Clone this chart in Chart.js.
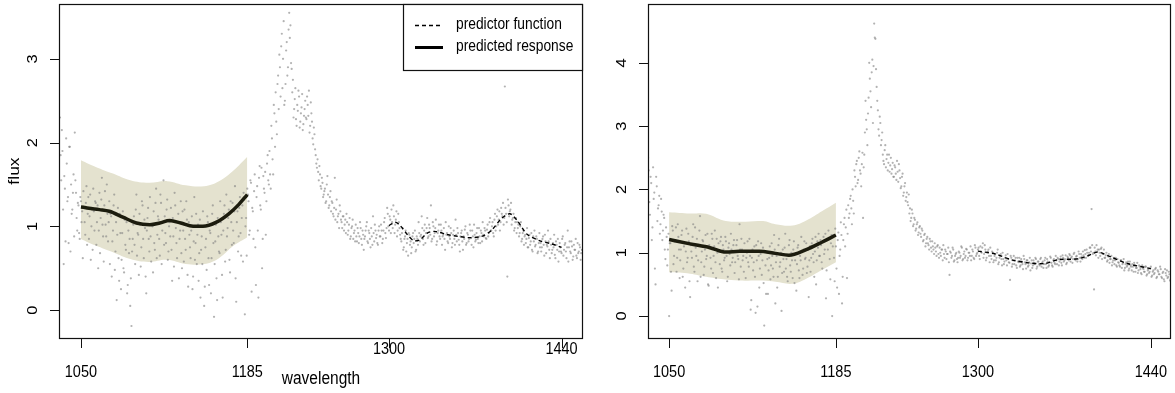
<!DOCTYPE html>
<html>
<head>
<meta charset="utf-8">
<script src="https://cdn.jsdelivr.net/npm/chart.js@4.4.1/dist/chart.umd.min.js"></script>
<style>
html, body { margin: 0; padding: 0; background: #fff; }
#wrap { position: relative; width: 1175px; height: 393px; }
canvas { position: absolute; top: 0; }
</style>
</head>
<body>
<div id="wrap">
  <canvas id="leftChart" width="587" height="393" style="left:0px"></canvas>
  <canvas id="rightChart" width="588" height="393" style="left:587px"></canvas>
</div>
<script>
// observed spectra: one value per nm from waveStart, plus a second set at the half-nm
const waveStart = 1033;

const fluxLeft = [
  2.30,1.55,1.90,0.55,1.45,2.05,1.30,0.80,1.95,1.50,
  1.20,1.62,2.12,1.40,0.95,1.25,0.85,1.30,1.18,1.42,
  1.05,1.28,0.78,1.35,1.12,0.60,1.20,1.45,0.95,1.28,
  1.05,0.50,1.40,1.10,1.58,0.88,1.25,1.02,1.50,0.82,
  1.30,1.15,0.40,0.95,1.38,0.70,0.12,1.22,0.35,0.92,
  0.60,1.18,0.45,0.78,1.05,0.30,0.68,0.05,-0.19,0.85,
  1.12,0.55,1.38,0.92,0.42,1.02,0.75,1.25,0.62,0.98,
  0.20,1.10,0.85,1.35,0.58,1.00,1.18,0.72,1.45,0.90,
  1.08,0.65,1.28,0.95,1.55,1.12,0.80,1.32,0.70,1.05,
  1.22,0.35,0.88,1.40,0.98,0.62,1.15,0.85,1.30,0.50,
  0.95,1.20,0.72,1.08,0.28,0.90,0.62,1.12,0.40,1.35,
  0.80,0.55,1.02,0.68,0.15,0.88,1.18,0.05,0.75,0.48,
  1.05,0.30,0.92,0.62,1.25,-0.08,0.82,0.38,1.10,0.70,
  1.30,0.90,0.15,1.15,0.58,1.38,0.98,1.20,0.45,1.05,
  1.28,0.80,1.48,0.10,1.18,0.88,1.35,0.65,1.25,1.40,
  -0.05,1.10,1.45,1.30,0.95,1.52,1.22,0.85,1.62,0.30,
  1.48,0.15,1.72,1.20,0.50,1.60,1.40,0.90,1.75,1.55,
  1.90,1.45,2.05,1.62,2.35,2.60,2.10,2.80,3.05,2.55,
  3.30,3.00,2.45,2.70,3.20,2.90,3.55,3.40,2.88,2.75,
  2.40,2.65,2.20,2.38,2.55,2.25,2.42,2.15,2.32,2.50,
  2.28,2.45,2.62,2.20,2.35,2.05,2.18,1.92,1.75,1.80,
  1.55,1.62,1.45,1.52,1.38,1.45,1.30,1.60,1.22,1.35,
  1.18,1.28,1.12,1.58,1.20,1.05,1.15,1.25,1.08,0.98,
  1.12,1.02,0.92,1.05,0.95,1.10,0.88,1.00,0.85,0.95,
  1.02,0.82,0.92,0.88,0.98,0.78,0.90,0.85,0.95,1.05,
  0.80,0.92,0.75,0.88,1.12,0.82,0.95,0.90,0.78,1.00,
  0.88,0.95,0.85,1.05,0.92,0.98,1.15,0.95,1.08,1.20,
  0.98,1.12,1.02,1.18,0.95,1.05,0.90,0.82,0.98,0.75,
  0.88,0.70,0.85,0.92,0.78,0.68,0.88,0.80,0.95,0.72,
  0.85,1.05,0.82,0.90,0.98,0.78,1.02,0.92,1.10,0.88,
  0.98,1.25,0.85,1.00,0.92,1.08,0.82,0.95,0.88,1.02,
  0.78,0.90,0.85,1.05,0.92,0.80,0.88,0.98,0.75,0.90,
  0.85,1.08,0.82,0.92,0.78,0.88,0.95,0.72,0.85,1.00,
  0.80,0.90,0.85,0.95,0.78,0.88,1.02,0.82,0.92,0.85,
  0.98,0.80,0.92,1.05,0.88,0.95,0.85,1.02,0.92,1.10,
  0.95,1.05,0.88,1.15,1.00,1.20,1.08,0.95,1.22,1.12,
  1.02,2.67,1.15,0.40,1.25,1.18,1.28,1.08,1.15,0.98,
  1.10,1.05,1.02,0.92,1.05,0.85,0.95,0.88,0.80,0.98,
  0.75,0.90,0.82,0.72,0.88,0.95,0.78,0.85,0.70,0.92,
  0.80,0.75,0.88,0.65,0.82,0.78,0.95,0.72,0.85,0.68,
  0.80,0.90,0.62,0.78,0.85,0.70,0.75,0.68,0.88,0.72,
  0.80,0.62,0.95,0.75,0.70,0.82,0.60,0.78,0.72,0.65,
  0.80,0.70,0.75,0.68,0.72
];
const fluxLeftHalf = [
  1.85,2.15,1.20,1.60,0.82,1.75,1.35,1.95,0.70,1.15,
  1.40,0.88,1.55,1.10,1.28,0.92,1.35,1.05,0.62,1.22,
  0.90,1.48,1.15,0.85,1.38,1.00,0.72,1.18,1.30,0.78,
  1.25,0.95,0.68,1.32,1.02,0.58,1.42,0.88,1.15,1.05,
  0.55,1.12,0.82,1.25,0.48,1.05,0.90,0.62,1.15,0.25,
  0.92,0.50,1.08,0.72,0.20,0.95,0.85,0.38,0.70,1.02,
  0.78,1.20,0.65,0.90,1.15,0.52,1.30,0.85,1.08,0.40,
  0.95,1.22,0.70,0.88,1.02,0.45,0.80,1.28,0.62,1.12,
  0.85,1.38,0.55,1.05,0.78,0.92,1.20,0.60,1.00,0.88,
  0.72,1.10,0.52,1.25,0.80,1.05,0.38,0.95,0.68,1.18,
  0.58,0.85,1.30,0.42,1.05,0.75,0.95,0.25,0.82,0.60,
  1.15,0.90,0.35,1.08,0.72,0.55,1.00,0.28,0.85,1.12,
  0.62,0.95,0.20,1.15,0.80,0.55,1.02,0.12,0.88,0.68,
  1.05,0.42,0.95,1.25,0.72,0.88,1.10,0.60,1.30,0.78,
  0.95,1.18,0.38,1.05,0.70,1.22,0.92,1.10,0.58,1.32,
  1.00,0.65,1.38,0.90,1.55,0.22,1.18,1.42,0.75,1.35,
  0.95,1.58,1.25,1.70,0.85,1.45,1.65,1.30,1.85,1.50,
  1.62,2.20,1.80,2.45,1.95,2.25,2.70,2.40,2.90,3.15,
  2.65,3.45,2.50,3.10,2.80,3.35,3.25,2.95,2.60,2.30,
  2.52,2.28,2.45,2.62,2.18,2.35,2.58,2.22,2.40,2.30,
  2.55,2.32,2.12,2.48,2.25,1.98,2.10,1.85,1.70,1.65,
  1.72,1.48,1.58,1.35,1.42,1.28,1.50,1.38,1.25,1.42,
  1.30,1.15,1.22,1.08,1.32,1.12,0.98,1.18,1.05,1.12,
  0.95,1.08,1.15,0.90,1.02,0.85,0.98,1.08,0.92,0.82,
  0.88,0.98,0.80,1.05,0.85,0.95,0.72,0.88,1.00,0.82,
  0.95,0.85,0.98,0.78,0.92,1.02,0.86,0.80,0.95,0.88,
  1.02,0.80,0.95,1.10,0.86,1.22,1.00,1.12,0.92,1.05,
  1.25,0.92,1.08,0.88,1.15,0.98,0.85,0.92,0.72,0.85,
  0.95,0.80,0.65,0.90,0.82,0.75,0.92,0.85,0.70,0.88,
  0.78,0.92,0.88,1.12,0.85,0.95,0.80,0.98,0.86,1.02,
  0.90,0.82,1.05,0.88,0.98,0.78,0.92,1.02,0.85,0.95,
  0.88,0.98,0.72,0.90,0.82,1.00,0.85,0.92,0.80,0.95,
  0.78,0.90,0.98,0.84,0.70,0.92,0.82,0.88,0.96,0.78,
  0.92,0.82,1.02,0.86,0.95,0.75,0.90,0.84,0.98,0.80,
  0.88,0.95,0.82,0.90,0.98,0.86,0.96,0.88,1.05,0.95,
  1.00,0.92,1.08,0.95,1.12,1.02,1.18,1.05,1.15,1.28,
  1.10,1.22,1.05,1.32,1.12,1.20,1.02,1.10,0.95,1.05,
  0.92,0.98,0.88,1.00,0.82,0.92,0.78,0.90,0.85,0.75,
  0.86,0.78,0.92,0.70,0.82,0.76,0.88,0.68,0.80,0.75,
  0.70,0.85,0.78,0.90,0.68,0.76,0.82,0.62,0.78,0.72,
  0.75,0.66,0.82,0.72,0.58,0.80,0.70,0.85,0.65,0.78,
  0.70,0.75,0.58,0.82,0.68,0.76,0.64,0.72,0.85,0.62,
  0.68,0.78,0.60,0.72,0.66
];

const fluxRight = [
  2.50,1.80,2.20,1.20,2.35,1.95,0.50,2.05,1.70,1.90,
  1.45,1.65,1.35,1.55,0.90,1.25,1.05,0.00,1.15,0.40,
  1.35,0.95,1.20,0.70,1.45,1.05,0.88,1.28,0.62,1.10,
  0.45,1.38,0.92,1.18,0.30,1.02,1.25,0.78,1.40,0.95,
  0.55,1.12,1.58,0.85,1.20,0.65,1.05,0.90,1.30,0.48,
  1.08,0.75,1.22,0.95,1.35,0.60,1.00,1.15,0.82,1.25,
  0.70,1.05,0.92,1.18,0.55,1.08,0.98,1.30,0.85,1.12,
  0.68,1.02,1.20,0.90,1.45,0.78,1.05,0.95,1.15,0.60,
  1.00,0.85,1.22,0.10,0.92,0.72,1.10,0.05,0.88,1.18,
  0.45,0.98,0.65,1.08,-0.15,0.80,1.02,0.35,0.92,0.58,
  1.15,0.75,1.28,0.20,0.95,0.62,1.22,0.85,0.08,1.05,
  0.70,1.30,0.90,0.55,1.12,0.80,1.00,0.60,1.18,0.88,
  0.40,1.08,0.72,0.95,1.25,0.65,1.05,0.90,1.15,0.78,
  0.30,1.10,0.92,1.22,0.85,1.02,0.50,1.18,1.30,0.95,
  1.12,0.75,1.25,1.05,0.28,1.20,1.35,0.90,1.15,0.00,
  1.28,0.55,1.10,0.45,1.32,0.95,1.48,0.20,1.20,1.55,
  1.40,0.60,1.75,1.62,1.90,1.45,1.82,2.30,2.05,2.45,
  2.15,2.60,2.25,2.40,1.55,2.55,3.40,2.95,3.20,4.00,
  3.55,3.85,3.05,4.62,4.38,3.62,3.25,2.85,3.05,2.78,
  2.55,2.40,2.70,2.48,2.30,2.55,2.38,2.25,2.42,2.20,
  2.35,2.15,2.28,2.40,2.18,2.05,2.25,1.95,2.10,1.88,
  1.80,1.92,1.70,1.55,1.62,1.45,1.52,1.38,1.48,1.32,
  1.42,1.25,1.35,1.20,1.30,1.15,1.25,1.12,1.22,1.08,
  1.18,1.05,1.15,1.02,1.10,0.98,1.08,0.95,1.05,1.12,
  0.92,1.02,0.98,1.08,0.65,1.00,0.95,1.05,0.88,0.98,
  0.90,0.92,1.00,0.95,1.08,0.90,1.02,0.95,1.05,0.92,
  1.00,1.10,0.95,1.02,0.90,1.08,0.98,1.05,0.95,1.10,
  1.00,1.15,0.98,1.05,0.92,1.02,0.95,1.08,0.90,1.00,
  0.88,0.98,0.92,1.05,0.85,0.95,0.90,1.00,0.82,0.92,
  0.88,0.98,0.85,0.57,0.92,0.82,0.95,0.88,0.80,0.92,
  0.85,0.78,0.90,0.82,0.95,0.85,0.75,0.88,0.80,0.92,
  0.83,0.76,0.88,0.82,0.90,0.78,0.86,0.80,0.92,0.84,
  0.76,0.88,0.82,0.90,0.78,0.85,0.92,0.80,0.88,0.84,
  0.95,0.82,0.90,0.86,0.94,0.80,0.92,0.88,0.96,0.84,
  0.92,0.98,0.86,0.94,0.90,1.00,0.88,0.95,0.90,0.98,
  0.86,0.94,1.02,0.92,0.98,1.05,0.95,1.00,1.08,1.69,
  0.98,0.42,1.02,1.12,1.05,1.05,0.95,1.08,0.98,1.05,
  0.92,1.00,0.88,0.98,0.90,0.95,0.85,0.92,0.88,0.80,
  0.90,0.84,0.78,0.88,0.82,0.90,0.76,0.85,0.80,0.72,
  0.86,0.78,0.82,0.70,0.80,0.76,0.84,0.72,0.78,0.68,
  0.80,0.74,0.70,0.78,0.66,0.74,0.70,0.78,0.64,0.72,
  0.68,0.76,0.62,0.70,0.66,0.74,0.60,0.70,0.55,0.68,
  0.72,0.62,0.66,0.58,0.64
];
const fluxRightHalf = [
  2.30,1.60,2.10,1.40,1.85,0.75,2.20,1.50,1.75,1.30,
  1.85,1.20,1.60,1.05,1.40,0.80,1.30,1.15,0.70,1.42,
  0.82,1.18,1.40,0.92,1.25,0.60,1.05,1.35,0.75,1.15,
  1.02,0.85,1.30,0.55,1.12,0.92,1.45,0.70,1.08,1.22,
  0.88,1.35,0.62,1.02,1.18,0.78,1.28,0.95,0.50,1.12,
  0.92,1.30,0.68,1.10,0.85,1.22,0.45,1.02,1.18,0.75,
  1.12,0.88,1.25,0.95,0.62,1.15,0.80,1.05,0.92,1.20,
  0.85,1.12,0.95,0.58,1.05,1.22,0.88,0.70,1.02,0.92,
  1.18,0.78,0.95,0.25,1.05,0.85,0.62,1.12,0.15,0.95,
  0.75,1.15,0.88,0.52,1.02,0.35,0.90,0.72,1.10,0.80,
  0.95,0.62,1.05,0.85,0.45,1.12,0.78,1.00,0.68,0.90,
  1.08,0.75,0.62,0.95,1.20,0.70,0.88,1.05,0.52,0.98,
  0.82,1.12,0.60,0.88,1.02,0.75,1.18,0.92,0.68,1.05,
  0.88,0.70,1.15,0.98,0.62,1.25,0.88,1.08,0.95,1.20,
  0.85,1.18,0.98,1.30,0.72,1.05,1.22,0.58,1.28,1.10,
  0.92,1.38,0.75,1.20,0.35,1.05,1.28,0.62,1.45,1.10,
  1.68,1.30,1.55,1.85,1.70,2.00,1.62,2.20,2.40,2.10,
  2.50,2.30,2.05,2.58,2.35,2.90,3.10,2.70,3.45,3.75,
  3.30,4.05,3.95,4.40,3.90,3.40,2.95,3.15,2.70,2.90,
  2.45,2.62,2.35,2.55,2.42,2.28,2.50,2.32,2.20,2.38,
  2.25,2.45,2.12,2.30,2.02,2.20,1.90,2.05,1.82,1.95,
  1.75,1.62,1.50,1.68,1.42,1.55,1.35,1.45,1.28,1.40,
  1.30,1.38,1.18,1.28,1.10,1.22,1.15,1.05,1.18,1.02,
  1.10,0.98,1.08,0.95,1.12,0.92,1.00,1.05,0.88,0.98,
  1.05,0.90,0.98,0.85,1.02,0.92,1.08,0.86,0.95,1.00,
  0.85,1.02,0.92,1.10,0.88,0.98,0.92,1.06,0.88,1.00,
  0.95,0.88,1.05,0.92,1.12,0.95,1.00,1.08,0.90,1.02,
  1.08,0.92,1.12,0.88,1.00,1.05,0.85,0.95,1.02,0.85,
  0.95,0.88,1.00,0.82,0.92,0.98,0.80,0.90,0.86,0.96,
  0.80,0.90,0.84,0.95,0.78,0.88,0.82,0.92,0.76,0.86,
  0.92,0.80,0.86,0.74,0.90,0.82,0.88,0.78,0.85,0.72,
  0.88,0.80,0.84,0.92,0.75,0.86,0.82,0.90,0.78,0.86,
  0.82,0.92,0.76,0.86,0.80,0.94,0.84,0.78,0.90,0.82,
  0.88,0.92,0.80,0.90,0.84,0.96,0.86,0.90,0.82,0.94,
  0.88,0.96,0.92,0.84,0.98,0.90,0.94,0.86,1.02,0.92,
  0.98,0.90,0.96,1.04,0.92,1.00,0.96,1.08,1.02,1.12,
  1.00,1.08,0.96,1.02,0.92,1.00,1.06,0.90,0.98,0.92,
  0.96,0.86,0.94,0.84,0.90,0.80,0.88,0.82,0.92,0.78,
  0.85,0.80,0.88,0.76,0.84,0.72,0.82,0.78,0.86,0.75,
  0.80,0.72,0.78,0.84,0.70,0.76,0.68,0.80,0.74,0.66,
  0.76,0.70,0.78,0.64,0.72,0.68,0.75,0.62,0.70,0.66,
  0.74,0.60,0.72,0.66,0.78,0.62,0.68,0.58,0.74,0.64,
  0.60,0.70,0.56,0.66,0.62
];

// predicted response (solid) and its band
const bandWaveLeft = [1050,1062,1076,1090,1105,1120,1135,1150,1162,1174,1185];
const bandUpperLeft = [1.79,1.71,1.63,1.55,1.52,1.54,1.49,1.48,1.54,1.67,1.83];
const bandLowerLeft = [0.85,0.77,0.69,0.61,0.575,0.60,0.55,0.55,0.62,0.77,0.87];
const respWaveLeft = [1050,1065,1073,1084,1095,1106,1114,1122,1131,1141,1149,1160,1170,1178,1185];
const respLeft = [1.23,1.20,1.18,1.11,1.04,1.02,1.04,1.07,1.04,1.00,1.00,1.05,1.15,1.26,1.38];

const bandWaveRight = [1050,1067,1080,1094,1107,1126,1136,1150,1161,1174,1185];
const bandUpperRight = [1.64,1.62,1.615,1.51,1.49,1.50,1.45,1.43,1.51,1.66,1.79];
const bandLowerRight = [0.69,0.67,0.62,0.58,0.56,0.56,0.54,0.51,0.59,0.73,0.85];
const respWaveRight = [1050,1067,1083,1096,1107,1123,1136,1147,1161,1174,1185];
const respRight = [1.21,1.14,1.08,1.01,1.025,1.025,0.99,0.96,1.05,1.17,1.28];

// predictor function (dashed)
const predWaveLeft = [1300,1305,1309,1315,1320,1325,1331,1337,1348,1356,1365,1375,1383,1391,1398,1404,1412,1422,1432,1440];
const predLeft = [1.01,1.05,1.01,0.90,0.83,0.84,0.92,0.94,0.90,0.88,0.865,0.88,0.95,1.09,1.15,1.07,0.905,0.83,0.79,0.75];
const predWaveRight = [1300,1314,1327,1341,1354,1365,1381,1390,1397,1408,1421,1440];
const predRight = [1.025,0.98,0.89,0.84,0.83,0.89,0.905,0.96,1.01,0.93,0.83,0.75];

// axes
const xTicks = [1050, 1185, 1300, 1440];
const yTicksLeft = [0, 1, 2, 3];
const yTicksRight = [0, 1, 2, 3, 4];

const FONT = '"Liberation Sans", Arial, Helvetica, sans-serif';

function pairs(xs, ys) {
  return ys.map((y, i) => ({ x: xs[i], y: y }));
}
function spectrum(flux, half) {
  const pts = flux.map((y, i) => ({ x: waveStart + i, y: y }));
  return pts.concat(half.map((y, i) => ({ x: waveStart + i + 0.5, y: y })));
}

function putText(ctx, str, x, y, size, rot) {
  ctx.save();
  ctx.translate(x, y);
  ctx.scale(1, 1.13);
  if (rot) ctx.rotate(-Math.PI / 2);
  ctx.font = size + 'px ' + FONT;
  ctx.textAlign = 'center';
  ctx.textBaseline = 'middle';
  ctx.fillStyle = '#000';
  ctx.fillText(str, 0, 0);
  ctx.restore();
}

// R-style box, ticks and labels
const rAxes = {
  id: 'rAxes',
  afterDraw(chart, args, opts) {
    const { ctx, chartArea: a, scales } = chart;
    const x = scales.x, y = scales.y;
    ctx.save();
    ctx.strokeStyle = '#111';
    ctx.lineWidth = 1.2;
    ctx.strokeRect(a.left + 0.5, a.top + 0.5, a.right - a.left - 1, a.bottom - a.top);
    ctx.lineWidth = 1;
    ctx.beginPath();
    xTicks.forEach(v => {
      const px = Math.round(x.getPixelForValue(v)) + 0.5;
      ctx.moveTo(px, a.bottom);
      ctx.lineTo(px, a.bottom + 10);
    });
    opts.yTicks.forEach(v => {
      const py = Math.round(y.getPixelForValue(v)) + 0.5;
      ctx.moveTo(a.left, py);
      ctx.lineTo(a.left - 9, py);
    });
    ctx.stroke();
    xTicks.forEach((v, i) => {
      putText(ctx, String(v), x.getPixelForValue(v), opts.xLabelY[i], 14.5, false);
    });
    opts.yTicks.forEach(v => {
      putText(ctx, String(v), a.left - 26, y.getPixelForValue(v), 14.5, true);
    });
    if (opts.xTitle) putText(ctx, opts.xTitle, (a.left + a.right) / 2, 379, 15.5, false);
    if (opts.yTitle) putText(ctx, opts.yTitle, 15, (a.top + a.bottom) / 2, 15.5, true);
    ctx.restore();
  }
};

// legend box in the top right corner
const rLegend = {
  id: 'rLegend',
  afterDraw(chart, args, opts) {
    if (!opts.show) return;
    const { ctx, chartArea: a } = chart;
    ctx.save();
    ctx.fillStyle = '#fff';
    ctx.fillRect(403, a.top, a.right - 403, 66);
    ctx.strokeStyle = '#111';
    ctx.lineWidth = 1.2;
    ctx.strokeRect(403.5, a.top + 0.5, a.right - 404, 66);
    ctx.strokeStyle = '#000';
    ctx.lineWidth = 1.3;
    ctx.setLineDash([4, 3]);
    ctx.beginPath(); ctx.moveTo(415, 25.5); ctx.lineTo(443, 25.5); ctx.stroke();
    ctx.setLineDash([]);
    ctx.lineWidth = 3;
    ctx.beginPath(); ctx.moveTo(415, 47.5); ctx.lineTo(443, 47.5); ctx.stroke();
    ctx.restore();
    ctx.save();
    ctx.translate(456, 0);
    ctx.scale(1, 1.13);
    ctx.font = '13.8px ' + FONT;
    ctx.fillStyle = '#000';
    ctx.textBaseline = 'middle';
    ctx.fillText('predictor function', 0, 25 / 1.13);
    ctx.fillText('predicted response', 0, 47 / 1.13);
    ctx.restore();
  }
};

function makeChart(id, d) {
  return new Chart(document.getElementById(id), {
    type: 'line',
    data: {
      datasets: [
        { data: pairs(d.bandWave, d.bandUpper), fill: '+1', backgroundColor: '#e4e2cf',
          borderWidth: 0, pointRadius: 0, tension: 0.4, order: 4 },
        { data: pairs(d.bandWave, d.bandLower), fill: false,
          borderWidth: 0, pointRadius: 0, tension: 0.4, order: 4 },
        { data: spectrum(d.flux, d.half), showLine: false, pointRadius: 1.1, borderWidth: 0,
          pointBackgroundColor: 'rgba(130,130,130,0.62)', order: 3 },
        { data: pairs(d.predWave, d.pred), borderColor: '#000', borderWidth: 1.4,
          borderDash: [4, 3], pointRadius: 0, tension: 0.3, order: 2 },
        { data: pairs(d.respWave, d.resp), borderColor: '#1c1c0e', borderWidth: 3.5,
          pointRadius: 0, cubicInterpolationMode: 'monotone', order: 1 }
      ]
    },
    options: {
      responsive: false,
      animation: false,
      events: [],
      layout: { padding: d.padding },
      plugins: {
        legend: { display: false },
        tooltip: { enabled: false },
        rAxes: { yTicks: d.yTicks, xLabelY: d.xLabelY, xTitle: d.xTitle, yTitle: d.yTitle },
        rLegend: { show: d.legend }
      },
      scales: {
        x: { type: 'linear', display: false, min: d.xMin, max: d.xMax },
        y: { display: false, min: d.yMin, max: d.yMax }
      }
    },
    plugins: [rAxes, rLegend]
  });
}

makeChart('leftChart', {
  flux: fluxLeft, half: fluxLeftHalf,
  bandWave: bandWaveLeft, bandUpper: bandUpperLeft, bandLower: bandLowerLeft,
  respWave: respWaveLeft, resp: respLeft, predWave: predWaveLeft, pred: predLeft,
  padding: { left: 59, right: 2, top: 3, bottom: 55 },
  xMin: 1032.2, xMax: 1457.4, yMin: -0.333, yMax: 3.655,
  yTicks: yTicksLeft, xLabelY: [372, 372, 349, 349],
  xTitle: 'wavelength', yTitle: 'flux', legend: true
});

makeChart('rightChart', {
  flux: fluxRight, half: fluxRightHalf,
  bandWave: bandWaveRight, bandUpper: bandUpperRight, bandLower: bandLowerRight,
  respWave: respWaveRight, resp: respRight, predWave: predWaveRight, pred: predRight,
  padding: { left: 61, right: 1, top: 3, bottom: 55 },
  xMin: 1032.9, xMax: 1456.3, yMin: -0.347, yMax: 4.93,
  yTicks: yTicksRight, xLabelY: [372, 372, 372, 372],
  xTitle: null, yTitle: null, legend: false
});
</script>
</body>
</html>
